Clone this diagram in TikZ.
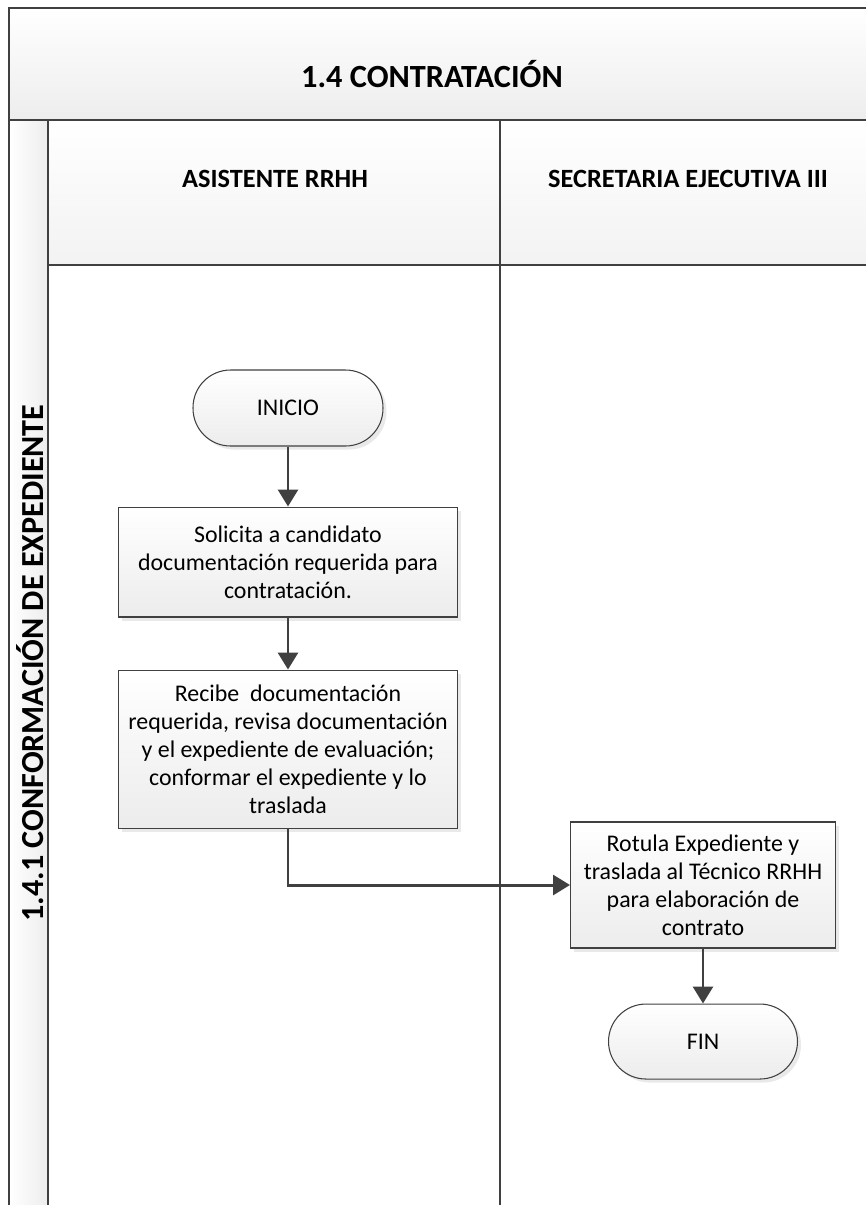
\documentclass[tikz,border=0pt]{standalone}
\usepackage{fontspec}
\setmainfont{Carlito}
\usepackage{tikz}
\usetikzlibrary{
  arrows.meta,
  positioning,
  shadows
}
\definecolor{LineGray}{RGB}{64,64,64}
\definecolor{BoxGray}{RGB}{236,236,236}

\begin{document}
\begin{tikzpicture}[
  x=0.02cm, y=-0.02cm,
  font=\fontsize{13.6pt}{15.9pt}\selectfont,
  >={Triangle[length=0.34cm, width=0.4cm]},
  node distance=1.2cm,
  lane/.style={draw=LineGray, line width=1.1pt},
  hdr/.style={font=\bfseries\fontsize{15pt}{18pt}\selectfont},
  proc/.style={draw=LineGray, line width=0.6pt, align=center,
               top color=white, bottom color=BoxGray,
               drop shadow={shadow xshift=2pt, shadow yshift=-2pt,
                            fill=black!12, opacity=0.7},
               minimum width=6.78cm, inner sep=2pt},
  term/.style={proc, rounded corners=0.75cm,
               minimum width=3.8cm, minimum height=1.52cm},
  arr/.style={->, draw=LineGray, line width=1.7pt},
]
  \useasboundingbox (0,0) rectangle (866,1205);

  % pool background
  \path[top color=white, bottom color=black!7] (9,8) rectangle (866,120);
  \path[top color=white, bottom color=black!5] (48,120) rectangle (866,265);
  \path[left color=white, right color=black!7] (9,120) rectangle (48,1205);

  \draw[lane] (866,8) -- (9,8) -- (9,1205);
  \draw[lane] (9,120) -- (866,120);
  \draw[lane] (48,120) -- (48,1205);
  \draw[lane] (48,265) -- (866,265);
  \draw[lane] (500,120) -- (500,1205);

  \node[font=\bfseries\fontsize{18.4pt}{22pt}\selectfont] (title) at (432,74) {1.4 CONTRATACIÓN};
  \node[hdr] (asis) at (275,179) {ASISTENTE RRHH};
  \node[hdr] (secr) at (688,179) {SECRETARIA EJECUTIVA III};
  \node[rotate=90, font=\bfseries\fontsize{18.3pt}{22pt}\selectfont] (fase) at (30,663)
    {1.4.1 CONFORMACIÓN DE EXPEDIENTE};

  % flow
  \node[term] (inicio) at (288,408) {INICIO};
  \node[proc, minimum height=2.2cm, below=1.2cm of inicio] (solic)
    {Solicita a candidato\\documentación requerida para\\contratación.};
  \node[proc, minimum height=3.16cm, below=1.04cm of solic] (recibe)
    {Recibe~ documentación\\requerida, revisa documentación\\y el expediente de evaluación;\\conformar el expediente y lo\\traslada};
  \node[proc, minimum width=5.3cm, minimum height=2.52cm] (rotula) at (703,885)
    {Rotula Expediente y\\traslada al Técnico RRHH\\para elaboración de\\contrato};
  \node[term, minimum width=3.78cm, minimum height=1.5cm, below=1.1cm of rotula] (fin) {FIN};

  \draw[arr] (inicio) -- (solic);
  \draw[arr] (solic) -- (recibe);
  \draw[arr] (recibe.south) |- (rotula.west);
  \draw[arr] (rotula) -- (fin);
\end{tikzpicture}
\end{document}
